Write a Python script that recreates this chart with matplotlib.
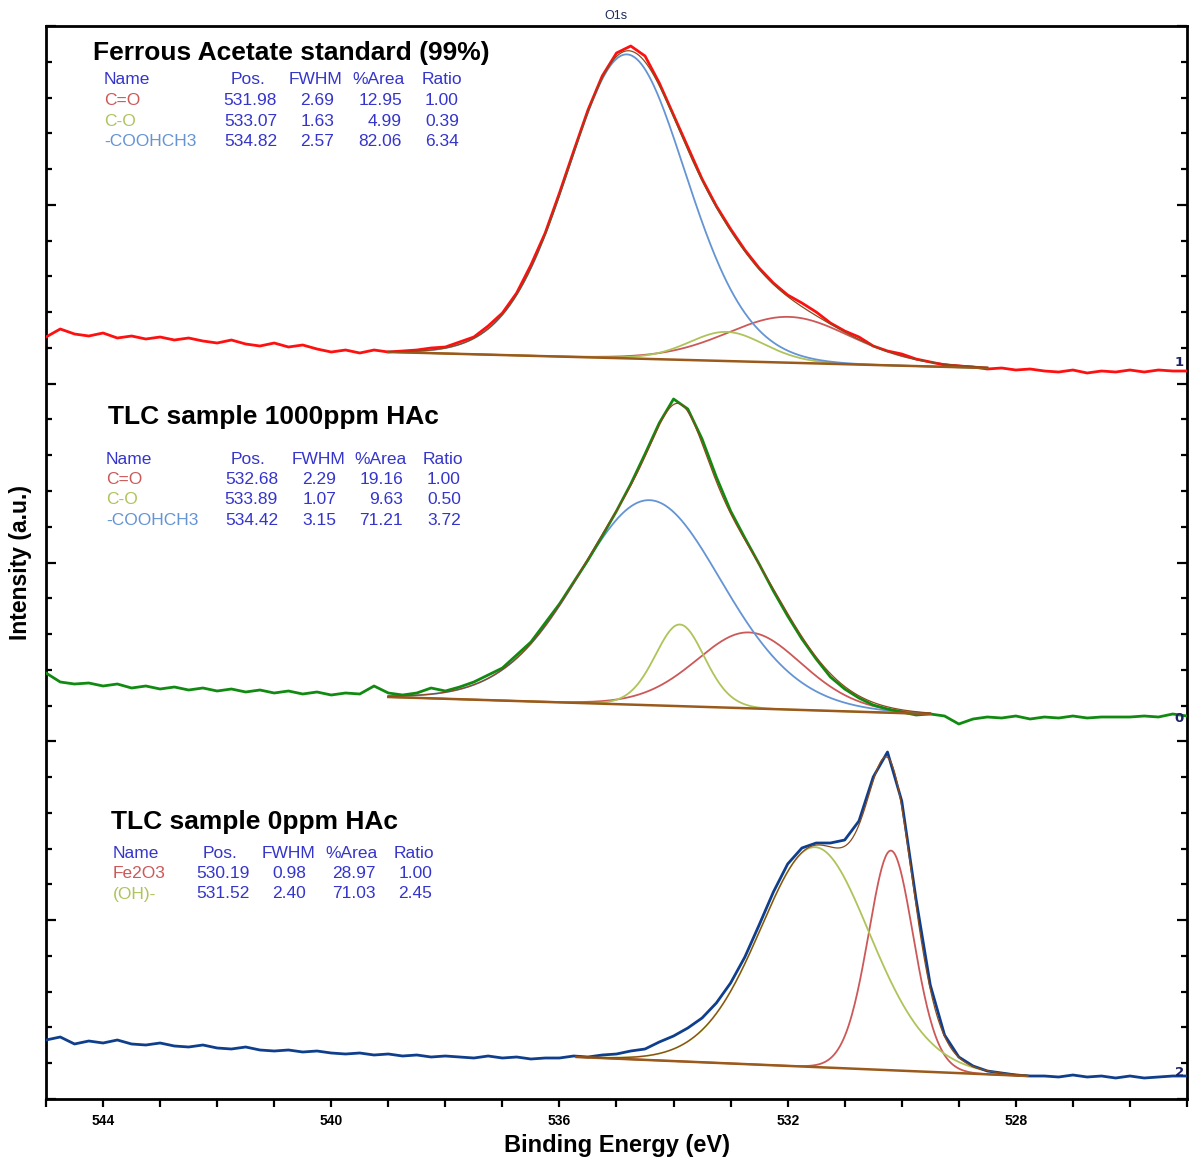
import numpy as np
import matplotlib
matplotlib.use("Agg")
import matplotlib.pyplot as plt
from matplotlib.ticker import MultipleLocator

# ---------------------------------------------------------------------------
# O1s scans (binding energy grid in eV, intensity in a.u.)
# ---------------------------------------------------------------------------
be = np.linspace(545.0, 525.0, 81)

fe_acetate = [762, 770, 765, 763, 766, 761, 763, 760, 762, 759,
              761, 758, 756, 759, 755, 753, 756, 752, 754, 750,
              747, 749, 746, 749, 747, 748, 749, 751, 752, 757,
              762, 773, 786, 806, 834, 866, 906, 948, 989, 1023,
              1046, 1053, 1043, 1016, 984, 952, 920, 893, 870, 849,
              831, 816, 804, 796, 787, 776, 768, 762, 753, 748,
              745, 740, 737, 734, 733, 732, 730, 731, 729, 730,
              728, 727, 729, 726, 728, 727, 729, 727, 729, 728, 728]

tlc_1000 = [426, 417, 415, 416, 413, 415, 411, 413, 410, 412,
            409, 411, 408, 410, 407, 409, 406, 408, 405, 407,
            404, 406, 405, 413, 406, 404, 406, 411, 408, 412,
            417, 424, 431, 444, 457, 476, 495, 517, 539, 563,
            588, 615, 645, 676, 700, 690, 660, 622, 588, 561,
            535, 508, 483, 460, 440, 422, 410, 401, 394, 390,
            387, 384, 385, 383, 375, 380, 382, 381, 383, 380,
            382, 381, 383, 381, 382, 382, 382, 383, 382, 385, 383]

tlc_0 = [59, 62, 55, 58, 56, 59, 55, 54, 56, 53,
         52, 54, 51, 50, 52, 49, 48, 49, 47, 48,
         46, 45, 46, 44, 45, 43, 44, 42, 43, 42,
         41, 43, 41, 42, 40, 41, 41, 43, 42, 44,
         45, 48, 50, 57, 63, 71, 81, 96, 116, 142,
         174, 207, 235, 251, 256, 256, 259, 278, 322, 347,
         298, 200, 114, 64, 42, 33, 28, 26, 24, 23,
         23, 22, 24, 22, 23, 21, 23, 21, 22, 23, 23]

# background end points: (BE start, BE end), (intensity start, intensity end)
fe_acetate_bg = ([539.0, 528.5], [747, 731])
tlc_1000_bg = ([539.0, 529.5], [402, 385])
tlc_0_bg = ([535.7, 527.8], [42, 23])

# peak-fit tables
fe_acetate_names = ["C=O", "C-O", "-COOHCH3"]
fe_acetate_pos = [531.98, 533.07, 534.82]
fe_acetate_fwhm = [2.69, 1.63, 2.57]
fe_acetate_area = [12.95, 4.99, 82.06]
fe_acetate_ratio = [1.00, 0.39, 6.34]

tlc_1000_names = ["C=O", "C-O", "-COOHCH3"]
tlc_1000_pos = [532.68, 533.89, 534.42]
tlc_1000_fwhm = [2.29, 1.07, 3.15]
tlc_1000_area = [19.16, 9.63, 71.21]
tlc_1000_ratio = [1.00, 0.50, 3.72]

tlc_0_names = ["Fe2O3", "(OH)-"]
tlc_0_pos = [530.19, 531.52]
tlc_0_fwhm = [0.98, 2.40]
tlc_0_area = [28.97, 71.03]
tlc_0_ratio = [1.00, 2.45]

# intensity per unit of %Area/FWHM for each fit
fe_acetate_scale = 9.52
tlc_1000_scale = 9.07
tlc_0_scale = 7.43

RED_C = "#cd5858"
GRN_C = "#aec45a"
BLU_C = "#6494d4"
BG_C = "#9a5a1c"
ENV_C = "#8b4a1a"
TAB_C = "#3535cc"
LABEL_FONT = ["Liberation Sans Narrow", "Liberation Sans", "DejaVu Sans"]


def gl(x, pos, fwhm, mix=0.3):
    r2 = ((x - pos) / fwhm) ** 2
    return np.exp(-4 * np.log(2) * (1 - mix) * r2) / (1 + 4 * mix * r2)


def draw_fit(ax, data, color, bg, pos, fwhm, area, comp_colors, scale):
    x = np.linspace(bg[0][0], bg[0][1], 500)
    base = np.interp(x, bg[0][::-1], bg[1][::-1])
    env = base.copy()
    for p, w, a, c in zip(pos, fwhm, area, comp_colors):
        comp = scale * a / w * gl(x, p, w)
        env += comp
        ax.plot(x, base + comp, color=c, lw=1.3, zorder=2)
    ax.plot(be, data, color=color, lw=2.0, zorder=3)
    ax.plot(x, base, color=BG_C, lw=1.8, zorder=4)
    ax.plot(x, env, color=ENV_C, lw=0.9, zorder=5)


def draw_table(fig, title, tx, ty, names, pos, fwhm, area, ratio, name_colors,
               name_x, cols, head_cols, y0, dy):
    W, H = 1192.0, 1160.0
    fig.text(tx / W, 1 - ty / H, title, fontsize=19, fontweight="bold",
             family="Liberation Sans", va="center", ha="left")
    kw = dict(fontsize=12.5, family="Liberation Sans", va="center", color=TAB_C)
    fig.text(name_x / W, 1 - y0 / H, "Name", ha="left", **kw)
    for h, cx in zip(["Pos.", "FWHM", "%Area", "Ratio"], head_cols):
        fig.text(cx / W, 1 - y0 / H, h, ha="right", **kw)
    for i, n in enumerate(names):
        y = 1 - (y0 + dy * (i + 1)) / H
        kw2 = dict(kw)
        kw2["color"] = name_colors[i]
        fig.text(name_x / W, y, n, ha="left", **kw2)
        vals = ["%.2f" % pos[i], "%.2f" % fwhm[i], "%.2f" % area[i], "%.2f" % ratio[i]]
        for v, cx in zip(vals, cols):
            fig.text(cx / W, y, v, ha="right", **kw)


fig = plt.figure(figsize=(11.92, 11.6), dpi=100)
ax = fig.add_axes([46 / 1192, 1 - 1099 / 1160, 1141 / 1192, 1073 / 1160])

draw_fit(ax, fe_acetate, "#ff1010", fe_acetate_bg, fe_acetate_pos, fe_acetate_fwhm,
         fe_acetate_area, [RED_C, GRN_C, BLU_C], fe_acetate_scale)
draw_fit(ax, tlc_1000, "#118a11", tlc_1000_bg, tlc_1000_pos, tlc_1000_fwhm,
         tlc_1000_area, [RED_C, GRN_C, BLU_C], tlc_1000_scale)
draw_fit(ax, tlc_0, "#0f3f8c", tlc_0_bg, tlc_0_pos, tlc_0_fwhm,
         tlc_0_area, [RED_C, GRN_C], tlc_0_scale)

ax.set_xlim(545, 525)
ax.set_ylim(0, 1073)
ax.xaxis.set_major_locator(MultipleLocator(4))
ax.xaxis.set_minor_locator(MultipleLocator(1))
ax.yaxis.set_major_locator(MultipleLocator(1073 / 6))
ax.yaxis.set_minor_locator(MultipleLocator(1073 / 30))
ax.tick_params(axis="y", which="both", direction="in", left=True, right=True,
               labelleft=False, width=1.6)
ax.tick_params(axis="y", which="major", length=7.5)
ax.tick_params(axis="y", which="minor", length=4)
ax.tick_params(axis="x", which="both", direction="out", width=1.6, pad=5)
ax.tick_params(axis="x", which="major", length=6)
ax.tick_params(axis="x", which="minor", length=6)
for lab in ax.get_xticklabels():
    lab.set_fontweight("bold")
    lab.set_fontsize(10)
    lab.set_family(LABEL_FONT)
for s in ax.spines.values():
    s.set_linewidth(2.0)

ax.set_xlabel("Binding Energy (eV)", fontsize=17, fontweight="bold",
              family=LABEL_FONT, labelpad=4)
ax.set_ylabel("Intensity (a.u.)", fontsize=16.5, fontweight="bold",
              family=LABEL_FONT, labelpad=10)

fig.text(616 / 1192, 1 - 16 / 1160, "O1s", fontsize=9, color="#1f2a5a",
         ha="center", va="center", family="Liberation Sans")

# spectrum index labels at the right edge
for idx, yy in [("1", 363), ("0", 718), ("2", 1072)]:
    fig.text(1184 / 1192, 1 - yy / 1160, idx, fontsize=9.5, fontweight="bold",
             color="#1c2266", ha="right", va="center")

draw_table(fig, "Ferrous Acetate standard (99%)", 93, 53,
           fe_acetate_names, fe_acetate_pos, fe_acetate_fwhm, fe_acetate_area,
           fe_acetate_ratio, [RED_C, GRN_C, BLU_C], 104,
           [277, 334, 402, 459], [265, 342, 405, 462], 80, 20.5)
draw_table(fig, "TLC sample 1000ppm HAc", 108, 417,
           tlc_1000_names, tlc_1000_pos, tlc_1000_fwhm, tlc_1000_area,
           tlc_1000_ratio, [RED_C, GRN_C, BLU_C], 106,
           [278, 336, 403, 461], [266, 345, 407, 463], 459, 20.5)
draw_table(fig, "TLC sample 0ppm HAc", 111, 822,
           tlc_0_names, tlc_0_pos, tlc_0_fwhm, tlc_0_area,
           tlc_0_ratio, [RED_C, GRN_C], 113,
           [250, 306, 376, 432], [237, 315, 378, 434], 853, 20.5)

fig.savefig("out.png", dpi=100)
